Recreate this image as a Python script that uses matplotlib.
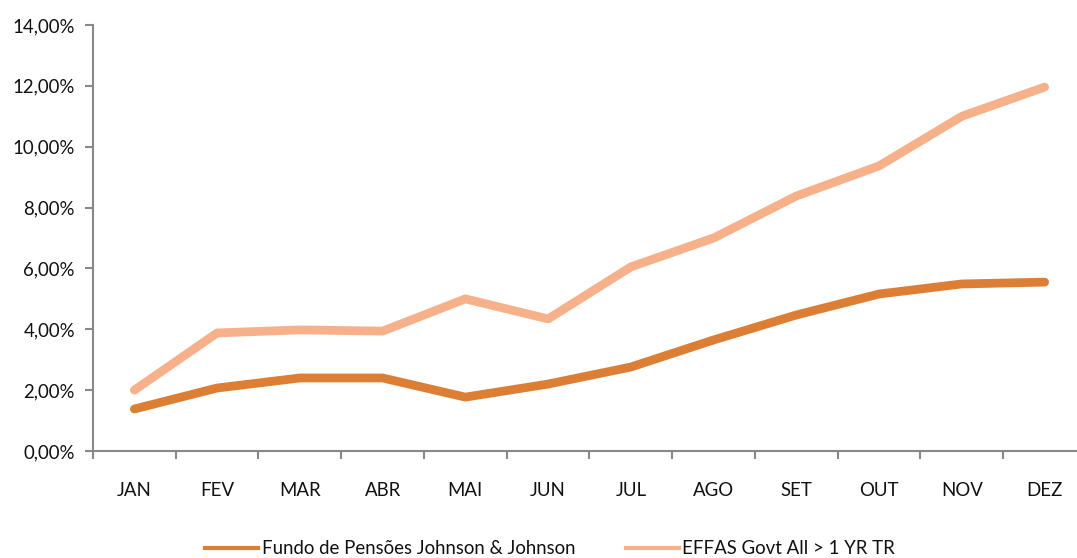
import matplotlib
matplotlib.use("Agg")
import matplotlib.pyplot as plt
import numpy as np
from matplotlib.ticker import FuncFormatter, FixedLocator

months = ["JAN", "FEV", "MAR", "ABR", "MAI", "JUN", "JUL", "AGO", "SET", "OUT", "NOV", "DEZ"]
fundo = [1.38, 2.07, 2.40, 2.40, 1.77, 2.20, 2.76, 3.65, 4.47, 5.16, 5.49, 5.55]
effas = [2.00, 3.88, 3.98, 3.94, 5.00, 4.34, 6.05, 7.00, 8.38, 9.37, 11.00, 11.96]
yticks = [0, 2, 4, 6, 8, 10, 12, 14]
series_names = ["Fundo de Pensões Johnson & Johnson", "EFFAS Govt All > 1 YR TR"]

plt.rcParams['font.family'] = ['Lato', 'DejaVu Sans']
fs = 13.4

fig = plt.figure(figsize=(10.77, 5.58), dpi=100)
ax = fig.add_axes([93/1077, 1-451/558, (1086-93)/1077, (451-25)/558])

x = np.arange(len(months))
l1, = ax.plot(x, fundo, color="#DC7F35", lw=6.3, solid_capstyle="round", solid_joinstyle="round", label=series_names[0])
l2, = ax.plot(x, effas, color="#F6B18A", lw=6.3, solid_capstyle="round", solid_joinstyle="round", label=series_names[1])

ax.set_xlim(-0.5, len(months) - 0.5)
ax.set_ylim(0, 14)
ax.set_yticks(yticks)
ax.yaxis.set_major_formatter(FuncFormatter(lambda v, p: f"{v:.2f}%".replace(".", ",")))
ax.set_xticks(x)
ax.set_xticklabels(months)
ax.xaxis.set_minor_locator(FixedLocator(np.arange(-0.5, len(months), 1.0)))
ax.tick_params(axis="x", which="major", length=0, pad=22, labelsize=fs, labelcolor="#111111")
ax.tick_params(axis="x", which="minor", length=6, width=1.5, color="#888888")
ax.tick_params(axis="y", length=6, width=1.5, color="#888888", labelsize=fs, pad=7, labelcolor="#111111")

for s in ["top", "right"]:
    ax.spines[s].set_visible(False)
for s in ["left", "bottom"]:
    ax.spines[s].set_color("#888888")
    ax.spines[s].set_linewidth(1.5)

h1 = plt.Line2D([], [], color="#DC7F35", lw=3)
h2 = plt.Line2D([], [], color="#F6B18A", lw=3)
fig.legend([h1, h2], series_names, loc="center left", bbox_to_anchor=(205/1077, 1-549/558),
           ncol=2, frameon=False, fontsize=fs, handlelength=2.85, handletextpad=0.2,
           columnspacing=2.7, borderaxespad=0, borderpad=0, labelcolor="#111111")

fig.savefig("out.png", dpi=100)
